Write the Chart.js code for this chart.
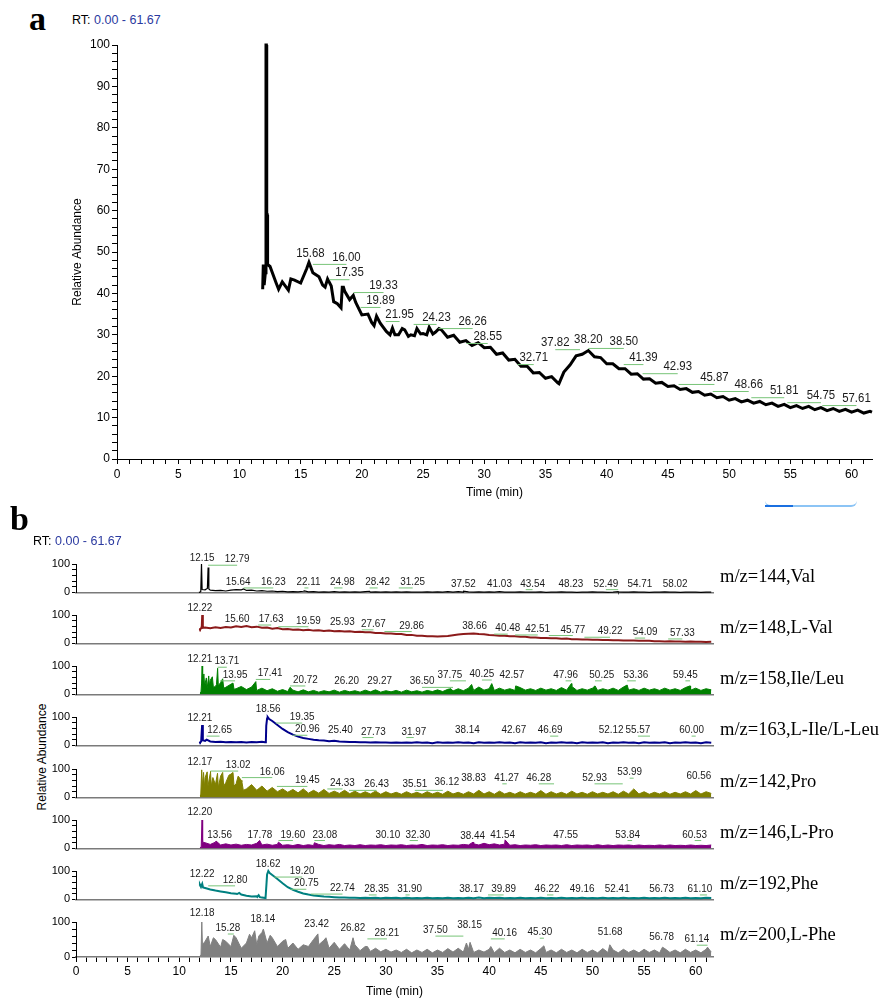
<!DOCTYPE html>
<html>
<head>
<meta charset="utf-8">
<title>Chromatograms</title>
<script src="https://cdn.jsdelivr.net/npm/chart.js@4.4.1/dist/chart.umd.min.js"></script>
<style>
  body { margin: 0; background: #fff; }
  #page { position: relative; width: 889px; height: 1000px; overflow: hidden; font-family: "Liberation Sans", Arial, sans-serif; }
  #page canvas { position: absolute; left: 0; }
  .letter { position: absolute; font: bold 34px/34px "Liberation Serif", serif; }
  .rt { position: absolute; font-size: 12.5px; line-height: 14px; white-space: nowrap; }
  .rt span { color: #2b3aa0; }
  .mz { position: absolute; left: 720px; font: 18.5px/20px "Liberation Serif", serif; white-space: nowrap; }
  .ylab { position: absolute; width: 120px; height: 14px; line-height: 14px; text-align: center; font-size: 12px; transform: rotate(-90deg); white-space: nowrap; }
  .bar { position: absolute; left: 765px; top: 500px; width: 92px; height: 5px; border-bottom: 2px solid #8cc4f5; border-radius: 0 0 6px 6px; }
  .bar div { position: absolute; left: 0; bottom: -2px; width: 28px; height: 2px; background: #1a6fe0; }
</style>
</head>
<body>
<div id="page">
  <div class="letter" style="left:29px;top:2px">a</div>
  <div class="rt" style="left:72px;top:13px">RT: <span>0.00 - 61.67</span></div>
  <canvas id="chartA" width="889" height="510" style="top:0"></canvas>
  <div class="bar"><div></div></div>
  <div class="letter" style="left:10px;top:502px">b</div>
  <div class="rt" style="left:33px;top:534px">RT: <span>0.00 - 61.67</span></div>
  <div class="ylab" style="left:-18px;top:750px">Relative Abundance</div>
</div>
<script>
// sampled every 0.5 min from 12.0 to 61.5
const sampleStart = 12, sampleStep = 0.5;

// ---- panel a: total ion chromatogram
const ticTrace = [43,46.5,42.5,42.8,40.8,43.2,42.5,46,45,44,
  41.5,41.8,37.5,41.5,38.5,37.8,34.8,35,32.2,32.8,
  30.8,31.6,30,31.2,30,31.5,30.3,31.8,30.6,31.2,
  29.4,29.9,28.2,28.6,27.4,28.1,26.9,27,25.3,25.6,
  23.9,24.1,22.4,22.4,20.8,20.9,19.5,19.9,18.4,21,
  22.7,24.9,25.3,26.2,24.7,24.5,23,23,21.8,21.8,
  20.5,20.6,19.3,19.4,18.3,18.5,17.5,17.7,16.8,17,
  16.1,16.3,15.4,15.7,14.8,15.1,14.2,14.6,13.8,14.2,
  13.5,13.9,13.1,13.5,12.7,13.2,12.4,12.9,12.2,12.7,
  11.9,12.4,11.7,12.2,11.5,12,11.3,11.8,11.1,11.5];
const ticSpikes = [[11.9,41],[11.95,47],[12.02,42],[12.12,45],[12.17,100],[12.2,100],[12.23,59],[12.27,59],[12.3,47],
  [13.2,41],[14.2,43.5],[15.68,47.5],[16.8,42],[17.2,43.5],[17.7,38],[18.3,36.5],[18.4,41.5],[18.6,40.5],
  [19.3,39.5],[20.8,33],[21.2,34.5],[22.3,30],[22.7,30],[23.3,31.5],[23.8,29.6],[24.3,29.8],
  [24.8,30.2],[25.3,30],[25.8,30.2],[26.3,31.5],[36.1,18.2],[61.67,11.3]];
const ticLabels = [[15.68,15.8,49.5],[16.00,18.74,48.6],[17.35,18.99,44.9],[19.33,21.77,41.8],
  [19.89,21.52,38.2],[21.95,23.08,34.8],[24.23,26.1,34.1],[26.26,29.05,33.1],[28.55,30.28,29.5],
  [32.71,34.04,24.4],[37.82,35.8,28],[38.20,38.5,28.7],[38.50,41.4,28.3],[41.39,43.0,24.4],
  [42.93,45.8,22.2],[45.87,48.8,19.6],[48.66,51.6,17.9],[51.81,54.5,16.4],[54.75,57.5,15.2],[57.61,60.4,14.5]];

// ---- panel b: extracted ion chromatograms
const valTrace = [1,9,8,6,7,5,8,10,9,7, 8,5,6,4,5,3,4,2,3,2, 4,2,3,1,2,1,3,1,2,1, 2,1,3,1,2,1,2,1,2,1,
  2,1,1,1,2,1,2,1,3,1, 3,1,2,1,2,1,2,1,3,1, 1,1,2,1,1,1,2,0,1,1, 2,1,1,0,1,1,2,1,1,0,
  1,2,1,1,2,1,1,0,1,1, 2,1,1,0,1,1,1,0,1,1];
const valSpikes = [[11.9,0],[12.08,3],[12.15,100],[12.21,10],[12.62,12],[12.72,14],[12.79,88],[12.86,12],
  [16.23,12],[22.11,5],[28.42,4],[37.52,4],[52.49,3]];
const valLabels = [[12.15,12.2,120],[12.79,15.6,117],[15.64,15.7,37],[16.23,19.1,37],[22.11,22.5,37],
  [24.98,25.8,37],[28.42,29.2,37],[31.25,32.6,37],[37.52,37.5,31],[41.03,41.0,31],[43.54,44.2,31],
  [48.23,47.9,31],[52.49,51.3,31],[54.71,54.6,31],[58.02,58.0,31]];

const lvalTrace = [50,56,53,57,54,58,56,60,58,61, 57,59,55,56,52,54,50,51,48,49, 46,48,45,46,44,45,43,44,42,43,
  40,41,39,39,37,37,35,35,33,33, 30,30,27,27,25,25,24,25,26,29, 31,33,34,35,33,32,30,29,27,27,
  25,25,23,23,21,21,19,19,18,18, 16,17,15,15,14,14,13,13,12,12, 11,11,10,10,10,9,9,9,8,8,
  7,8,7,7,6,7,6,6,5,6];
const lvalSpikes = [[11.95,45],[12.1,52],[12.18,60],[12.22,100],[12.28,55]];
const lvalLabels = [[12.22,12.0,123],[15.60,15.6,86],[17.63,18.9,86],[19.59,22.5,80],[25.93,25.8,74],
  [27.67,28.8,69],[29.86,32.5,63],[38.66,38.6,60],[40.48,41.8,54],[42.51,44.7,51],[45.77,48.1,49],
  [49.22,51.7,43],[54.09,55.1,40],[57.33,58.7,37]];

const ileTrace = [5,38,50,28,42,25,36,20,28,17, 26,14,22,13,20,11,17,10,15,9, 16,9,14,8,13,9,15,8,14,9,
  13,8,15,9,16,8,13,9,14,8, 15,9,13,8,14,10,16,10,18,12, 20,13,22,14,26,15,20,14,22,15,
  20,14,24,15,20,14,22,15,20,14, 24,15,28,14,20,15,22,14,20,15, 22,14,26,15,20,14,22,15,20,14,
  22,15,20,14,24,15,22,14,20,16];
const ileSpikes = [[12.1,8],[12.16,40],[12.21,100],[12.26,35],[12.38,72],[12.45,30],[12.62,58],[12.7,22],
  [12.85,65],[12.92,30],[13.2,62],[13.3,25],[13.6,35],[13.71,92],[13.78,30],[14.2,55],[14.3,22],
  [15.2,40],[15.3,18],[17.41,45],[17.48,15],[20.72,25],[36.3,20],[38.3,35],[40.25,38],[42.57,30],
  [47.96,38],[50.25,30],[53.36,33],[59.45,30]];
const ileLabels = [[12.21,12.0,123],[13.71,14.6,117],[13.95,15.4,69],[17.41,18.8,74],[20.72,22.2,51],
  [26.20,26.2,46],[29.27,29.4,46],[36.50,33.5,46],[37.75,36.2,69],[40.25,39.3,72],[42.57,42.2,69],
  [47.96,47.4,69],[50.25,50.9,69],[53.36,54.2,69],[59.45,59.0,69]];

const lileTrace = [10,16,14,12,13,11,12,11,12,10, 12,11,13,95,86,72,58,47,38,31, 26,23,20,18,17,15,16,14,13,12,
  12,11,11,10,11,10,10,9,10,9, 10,9,11,9,10,8,11,9,10,9, 11,9,10,8,11,9,10,9,11,9,
  10,8,11,9,10,9,11,8,10,9, 11,9,10,8,11,9,10,9,11,8, 10,9,11,9,10,8,11,9,10,9,
  11,8,10,9,11,9,10,8,11,9];
const lileSpikes = [[11.95,8],[12.12,14],[12.21,72],[12.28,18],[12.65,20],[18.3,11],[18.38,12],[18.42,70],
  [18.56,100],[18.7,93]];
const lileLabels = [[12.21,12.0,97],[12.65,13.9,54],[18.56,18.6,129],[19.35,21.9,100],[20.96,22.4,57],
  [25.40,25.6,54],[27.73,28.8,49],[31.97,32.7,49],[38.14,37.9,54],[42.67,42.4,54],[46.69,45.9,54],
  [52.12,51.8,54],[55.57,54.4,54],[60.00,59.6,54]];

const proTrace = [8,70,85,45,75,52,82,48,60,30, 45,25,40,22,35,20,30,18,28,16, 30,15,25,15,28,14,22,14,25,13,
  22,12,20,12,22,11,20,12,18,11, 20,12,18,11,20,12,18,11,22,12, 18,11,20,12,25,12,20,11,22,12,
  18,11,20,12,18,12,24,11,20,12, 18,11,22,12,18,11,20,12,18,12, 20,11,22,12,30,12,20,11,18,12,
  20,11,18,12,20,12,24,12,20,14];
const proSpikes = [[12.08,10],[12.17,97],[12.24,40],[12.35,88],[12.42,35],[12.7,90],[12.78,40],[13.02,92],
  [13.1,40],[13.25,70],[13.7,85],[13.78,35],[14.2,88],[14.3,40],[14.8,78],[15.2,88],[15.3,40],
  [15.7,75],[16.06,55],[16.2,25]];
const proLabels = [[12.17,12.0,126],[13.02,15.7,114],[16.06,19.0,91],[19.45,22.4,60],[24.33,25.8,51],
  [26.43,29.1,46],[35.51,32.8,46],[36.12,35.9,55],[38.83,38.5,69],[41.27,41.7,69],[46.28,44.8,69],
  [52.93,50.2,69],[53.99,53.6,89],[60.56,60.3,74]];

const lproTrace = [3,20,14,22,12,16,12,15,11,14, 12,18,12,15,11,14,11,13,10,14, 10,13,10,14,10,13,11,14,10,12,
  10,13,10,12,11,13,10,12,11,13, 10,12,11,14,10,12,11,13,10,12, 11,14,12,16,12,18,13,16,12,15,
  11,13,10,12,11,13,10,12,11,12, 10,13,10,12,11,12,10,13,10,12, 10,12,11,12,10,12,10,11,10,12,
  10,12,10,11,10,12,10,11,10,12];
const lproSpikes = [[12.12,4],[12.2,100],[12.26,22],[13.56,26],[17.78,28],[19.6,22],[23.08,20],[38.44,22],[41.54,30]];
const lproLabels = [[12.20,12.0,129],[13.56,13.9,49],[17.78,17.8,49],[19.60,21.0,49],[23.08,24.1,49],
  [30.10,30.2,49],[32.30,33.1,49],[38.44,38.4,43],[41.54,41.3,49],[47.55,47.4,49],[53.84,53.4,49],[60.53,59.9,49]];

const pheTrace = [52,40,35,31,28,25,22,20,17,13, 10,11,7,88,86,72,57,43,34,27, 21,17,14,12,10,9,8,7,7,6,
  6,5,6,5,6,4,6,5,6,4, 6,4,5,4,6,4,5,4,6,4, 5,4,6,4,7,4,6,5,6,4, 5,4,6,4,5,4,6,4,5,4,
  6,4,5,4,6,4,5,4,6,4, 5,4,6,4,5,4,6,4,5,4, 6,4,5,4,6,4,5,4,6,5];
const pheSpikes = [[11.95,48],[12.1,44],[12.22,55],[12.3,42],[15.6,19],[15.8,23],[17.55,9],[17.68,15],
  [17.8,8],[18.35,5],[18.45,60],[18.62,100],[18.75,93]];
const pheLabels = [[12.22,12.2,89],[12.80,15.4,69],[18.62,18.6,126],[19.20,21.9,100],[20.75,22.3,57],
  [22.74,25.8,40],[28.35,29.1,37],[31.90,32.3,37],[38.17,38.3,37],[39.89,41.4,37],[46.22,45.6,37],
  [49.16,49.0,37],[52.41,52.4,37],[56.73,56.7,37],[61.10,60.4,37]];

const lpheTrace = [4,45,30,50,28,45,30,55,25,40, 55,35,70,40,55,30,45,25,40,22, 35,30,50,35,48,25,42,22,38,20,
  35,18,30,16,25,15,22,14,20,13, 22,12,20,13,22,12,20,13,24,14, 25,14,22,13,20,14,22,12,25,13,
  20,12,22,13,20,12,24,13,20,12, 22,13,20,12,22,13,20,12,24,13, 20,12,22,13,20,12,22,13,20,12,
  24,13,20,12,22,13,20,12,22,14];
const lpheSpikes = [[12.1,5],[12.18,100],[12.24,35],[12.8,60],[13.3,55],[14.2,50],[15.28,62],[16.8,65],
  [17.3,75],[17.7,60],[18.14,80],[18.8,62],[20.3,50],[23.42,66],[24.2,55],[26.82,55],[28.21,30],
  [37.8,40],[38.15,42],[40.16,30],[45.3,32],[51.68,35],[56.78,28],[61.14,28]];
const lpheLabels = [[12.18,12.2,126],[15.28,14.7,83],[18.14,18.1,109],[23.42,23.3,94],[26.82,26.8,83],
  [28.21,30.1,69],[37.50,34.8,77],[38.15,38.1,91],[40.16,41.5,69],[45.30,44.9,71],[51.68,51.7,71],
  [56.78,56.7,57],[61.14,60.1,51]];

function trace(values, extra) {
  const pts = values.map((v, i) => ({ x: sampleStart + i * sampleStep, y: v }));
  extra.forEach(([x, y]) => pts.push({ x, y }));
  return pts.sort((a, b) => a.x - b.x);
}

// retention time labels with green leader lines
function peakLabels(items, size, squeeze) {
  return {
    id: 'peakLabels',
    afterDatasetsDraw(chart) {
      const { ctx, scales: { x, y } } = chart;
      ctx.save();
      ctx.font = size + 'px "Liberation Sans", Arial, sans-serif';
      ctx.textAlign = 'center';
      ctx.textBaseline = 'middle';
      ctx.lineWidth = 1;
      items.forEach(([peak, at, level]) => {
        const px = x.getPixelForValue(peak);
        const tx = x.getPixelForValue(at);
        const ty = y.getPixelForValue(level);
        if (Math.abs(tx - px) > 4) {
          ctx.strokeStyle = '#78c478';
          ctx.beginPath();
          ctx.moveTo(px, ty + size * 0.55);
          ctx.lineTo(tx, ty + size * 0.55);
          ctx.stroke();
        }
        ctx.fillStyle = '#1a1a1a';
        ctx.setTransform(squeeze, 0, 0, 1, tx, ty);
        ctx.fillText(peak.toFixed(2), 0, 0);
        ctx.setTransform(1, 0, 0, 1, 0, 0);
      });
      ctx.restore();
    }
  };
}

Chart.defaults.font.family = '"Liberation Sans", Arial, sans-serif';
Chart.defaults.color = '#000';

new Chart(document.getElementById('chartA'), {
  type: 'line',
  data: {
    datasets: [{
      data: trace(ticTrace, ticSpikes),
      borderColor: '#000',
      borderWidth: 3,
      pointRadius: 0,
      tension: 0,
      clip: false
    }]
  },
  options: {
    responsive: false,
    animation: false,
    devicePixelRatio: 1,
    layout: { padding: { left: 70, right: 17, top: 45, bottom: 10 } },
    plugins: { legend: { display: false }, tooltip: { enabled: false } },
    scales: {
      x: {
        type: 'linear', min: 0, max: 61.67,
        afterFit: s => { s.height = 41; },
        ticks: { stepSize: 1, includeBounds: false, autoSkip: false, maxRotation: 0, padding: 3,
          font: { size: 12 }, callback: v => v % 5 === 0 ? v : '' },
        grid: { drawOnChartArea: false, tickLength: 5, color: '#000' },
        border: { color: '#000' },
        title: { display: true, text: 'Time (min)', padding: 0, font: { size: 12 } }
      },
      y: {
        min: 0, max: 100,
        afterFit: s => { s.width = 47; },
        ticks: { stepSize: 2, autoSkip: false, padding: 2, font: { size: 12 },
          callback: v => v % 10 === 0 ? v : '' },
        grid: { drawOnChartArea: false, tickLength: 5, color: '#000' },
        border: { color: '#000' },
        title: { display: true, text: 'Relative Abundance', padding: 0, font: { size: 12 } }
      }
    }
  },
  plugins: [peakLabels(ticLabels, 12, 0.95)]
});

const rows = [
  { name: 'm/z=144,Val', color: '#000000', width: 1.2, fill: false, values: valTrace, extra: valSpikes, labels: valLabels },
  { name: 'm/z=148,L-Val', color: '#8b1a1a', width: 2, fill: false, values: lvalTrace, extra: lvalSpikes, labels: lvalLabels },
  { name: 'm/z=158,Ile/Leu', color: '#008000', width: 1, fill: true, values: ileTrace, extra: ileSpikes, labels: ileLabels },
  { name: 'm/z=163,L-Ile/L-Leu', color: '#00008b', width: 2, fill: false, values: lileTrace, extra: lileSpikes, labels: lileLabels },
  { name: 'm/z=142,Pro', color: '#808000', width: 1, fill: true, values: proTrace, extra: proSpikes, labels: proLabels },
  { name: 'm/z=146,L-Pro', color: '#800080', width: 1, fill: true, values: lproTrace, extra: lproSpikes, labels: lproLabels },
  { name: 'm/z=192,Phe', color: '#008080', width: 2, fill: false, values: pheTrace, extra: pheSpikes, labels: pheLabels },
  { name: 'm/z=200,L-Phe', color: '#808080', width: 1, fill: true, values: lpheTrace, extra: lpheSpikes, labels: lpheLabels }
];

const page = document.getElementById('page');
rows.forEach((row, i) => {
  const last = i === rows.length - 1;
  const zeroY = Math.round(599 + i * 51.14);
  const cv = document.createElement('canvas');
  cv.width = 889;
  cv.height = 20 + 35 + (last ? 43 : 2);
  cv.style.top = (zeroY - 55) + 'px';
  page.appendChild(cv);

  const tag = document.createElement('div');
  tag.className = 'mz';
  tag.style.top = (zeroY - 33) + 'px';
  tag.textContent = row.name;
  page.appendChild(tag);

  new Chart(cv, {
    type: 'line',
    data: {
      datasets: [{
        data: trace(row.values, row.extra),
        borderColor: row.color,
        backgroundColor: row.color,
        borderWidth: row.width,
        fill: row.fill ? 'origin' : false,
        pointRadius: 0,
        tension: 0,
        clip: false
      }]
    },
    options: {
      responsive: false,
      animation: false,
      devicePixelRatio: 1,
      layout: { padding: { left: 36, right: 176, top: 20, bottom: last ? 1 : 2 } },
      plugins: { legend: { display: false }, tooltip: { enabled: false } },
      scales: {
        x: {
          type: 'linear', min: 0, max: 61.67,
          afterFit: s => { s.height = last ? 42 : 0; },
          ticks: { display: last, stepSize: 1, includeBounds: false, autoSkip: false, maxRotation: 0, padding: 2,
            font: { size: 12 }, callback: v => v % 5 === 0 ? v : '' },
          grid: { drawOnChartArea: false, drawTicks: last, tickLength: 5, color: '#000' },
          border: { color: '#7a7a7a', width: 1.5 },
          title: { display: last, text: 'Time (min)', padding: 0, font: { size: 12 } }
        },
        y: {
          min: 0, max: 100,
          afterFit: s => { s.width = 40; },
          ticks: { stepSize: 20, autoSkip: false, padding: 2, font: { size: 11 },
            callback: v => (v === 0 || v === 100) ? v : '' },
          grid: { drawOnChartArea: false, tickLength: 4, color: '#000' },
          border: { color: '#000' }
        }
      }
    },
    plugins: [peakLabels(row.labels, 11, 0.9)]
  });
});
</script>
</body>
</html>
